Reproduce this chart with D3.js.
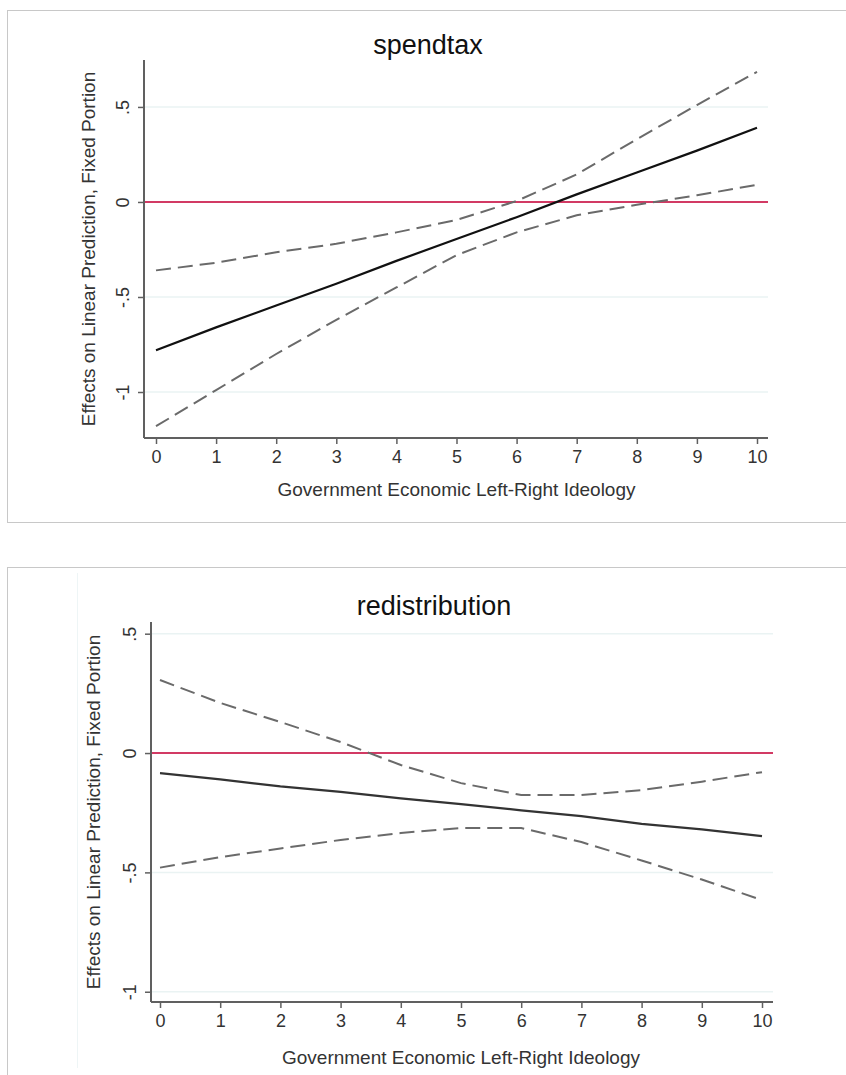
<!DOCTYPE html>
<html>
<head>
<meta charset="utf-8">
<script src="https://cdn.jsdelivr.net/npm/d3@7"></script>
<style>
  body { margin: 0; background: #fff; }
  svg { display: block; font-family: "Liberation Sans", Arial, sans-serif; }
</style>
</head>
<body>
<div id="chart"></div>
<script>
// x values: government economic left-right ideology
var ideology = [0, 1, 2, 3, 4, 5, 6, 7, 8, 9, 10];

// spendtax panel
var spendEst   = [-0.78, -0.66, -0.545, -0.43, -0.31, -0.195, -0.08, 0.04, 0.155, 0.27, 0.39];
var spendUpper = [-0.36, -0.32, -0.265, -0.22, -0.16, -0.095, 0.005, 0.145, 0.33, 0.51, 0.685];
var spendLower = [-1.18, -0.99, -0.80, -0.62, -0.45, -0.28, -0.16, -0.07, -0.015, 0.035, 0.09];

// redistribution panel
var redisEst   = [-0.084, -0.11, -0.14, -0.163, -0.19, -0.214, -0.24, -0.264, -0.297, -0.32, -0.348];
var redisUpper = [0.306, 0.21, 0.13, 0.046, -0.05, -0.126, -0.176, -0.176, -0.155, -0.12, -0.08];
var redisLower = [-0.48, -0.436, -0.40, -0.364, -0.335, -0.314, -0.314, -0.373, -0.45, -0.53, -0.616];

var xTicks = [0, 1, 2, 3, 4, 5, 6, 7, 8, 9, 10];
var yTicks = [0.5, 0, -0.5, -1];
var yTickLabels = {"0.5": ".5", "0": "0", "-0.5": "-.5", "-1": "-1"};

var W = 846, H = 1075;
var svg = d3.select("#chart").append("svg")
    .attr("width", W)
    .attr("height", H);

// panel frames
svg.append("rect").attr("x", 7.5).attr("y", 10.5).attr("width", 850).attr("height", 512)
    .attr("fill", "none").attr("stroke", "#c8c8c8").attr("stroke-width", 1);
svg.append("rect").attr("x", 7.5).attr("y", 567.5).attr("width", 850).attr("height", 520)
    .attr("fill", "none").attr("stroke", "#c8c8c8").attr("stroke-width", 1);
// faint line inside the lower panel
svg.append("line").attr("x1", 77.5).attr("x2", 77.5).attr("y1", 573).attr("y2", 1068)
    .attr("stroke", "#eef5f6").attr("stroke-width", 1);

function panel(opts) {
  var g = svg.append("g");
  var x = d3.scaleLinear().domain([0, 10]).range([opts.x0, opts.x10]);
  var y = d3.scaleLinear().domain(opts.yDomain).range([opts.bottom, opts.top]);

  // gridlines
  g.selectAll(".grid").data(yTicks.filter(function(d) { return d !== 0; }))
    .enter().append("line")
      .attr("x1", opts.left).attr("x2", opts.right)
      .attr("y1", function(d) { return y(d); }).attr("y2", function(d) { return y(d); })
      .attr("stroke", "#eaf3f3").attr("stroke-width", 1.5);

  // reference line at zero
  g.append("line")
    .attr("x1", opts.left).attr("x2", opts.right)
    .attr("y1", y(0)).attr("y2", y(0))
    .attr("stroke", "#d23a64").attr("stroke-width", 2);

  var line = d3.line()
    .x(function(d, i) { return x(ideology[i]); })
    .y(function(d) { return y(d); });

  [opts.upper, opts.lower].forEach(function(s) {
    g.append("path").datum(s)
      .attr("d", line)
      .attr("fill", "none")
      .attr("stroke", "#6a6a6a")
      .attr("stroke-width", 2)
      .attr("stroke-dasharray", "15,7");
  });
  g.append("path").datum(opts.est)
    .attr("d", line)
    .attr("fill", "none")
    .attr("stroke", opts.estColor)
    .attr("stroke-width", 2.2);

  // y axis
  var yAxis = g.append("g").attr("transform", "translate(" + opts.left + ",0)")
    .call(d3.axisLeft(y).tickValues(yTicks).tickSize(6).tickPadding(4)
      .tickFormat(function(d) { return yTickLabels[String(d)]; }));
  yAxis.select(".domain").attr("d", "M0," + opts.top + "V" + opts.bottom)
    .attr("stroke", "#606060").attr("stroke-width", 2);
  yAxis.selectAll(".tick line").attr("stroke", "#606060").attr("stroke-width", 1.5);
  yAxis.selectAll(".tick text")
    .attr("transform", "rotate(-90)")
    .attr("x", 0).attr("y", -15)
    .attr("text-anchor", "middle")
    .attr("dy", 0)
    .attr("fill", "#333")
    .style("font-size", "18px");

  // x axis
  var xAxis = g.append("g").attr("transform", "translate(0," + opts.bottom + ")")
    .call(d3.axisBottom(x).tickValues(xTicks).tickSize(6).tickPadding(6));
  xAxis.select(".domain").attr("d", "M" + opts.left + ",0H" + opts.right)
    .attr("stroke", "#606060").attr("stroke-width", 2);
  xAxis.selectAll(".tick line").attr("stroke", "#606060").attr("stroke-width", 1.5);
  xAxis.selectAll(".tick text").attr("fill", "#333").style("font-size", "18px");

  // titles
  g.append("text").attr("x", opts.titleX).attr("y", opts.titleY)
    .attr("text-anchor", "middle").attr("fill", "#111")
    .style("font-size", "27px").text(opts.title);
  g.append("text").attr("x", (opts.x0 + opts.x10) / 2).attr("y", opts.bottom + opts.xTitleOff)
    .attr("text-anchor", "middle").attr("fill", "#333")
    .style("font-size", "19px").text("Government Economic Left-Right Ideology");
  g.append("text")
    .attr("transform", "translate(" + (opts.left - opts.yTitleOff) + "," + ((opts.top + opts.bottom) / 2) + ") rotate(-90)")
    .attr("text-anchor", "middle").attr("fill", "#333")
    .style("font-size", "19px").text("Effects on Linear Prediction, Fixed Portion");
}

panel({
  title: "spendtax", titleX: 428, titleY: 54,
  left: 144, right: 768, x0: 156, x10: 757,
  top: 60, bottom: 438, yDomain: [-1.242, 0.747],
  xTitleOff: 58, yTitleOff: 49,
  est: spendEst, upper: spendUpper, lower: spendLower, estColor: "#111"
});

panel({
  title: "redistribution", titleX: 434, titleY: 615,
  left: 151, right: 773, x0: 160, x10: 762,
  top: 622, bottom: 1002, yDomain: [-1.043, 0.549],
  xTitleOff: 62, yTitleOff: 51,
  est: redisEst, upper: redisUpper, lower: redisLower, estColor: "#333"
});
</script>
</body>
</html>
